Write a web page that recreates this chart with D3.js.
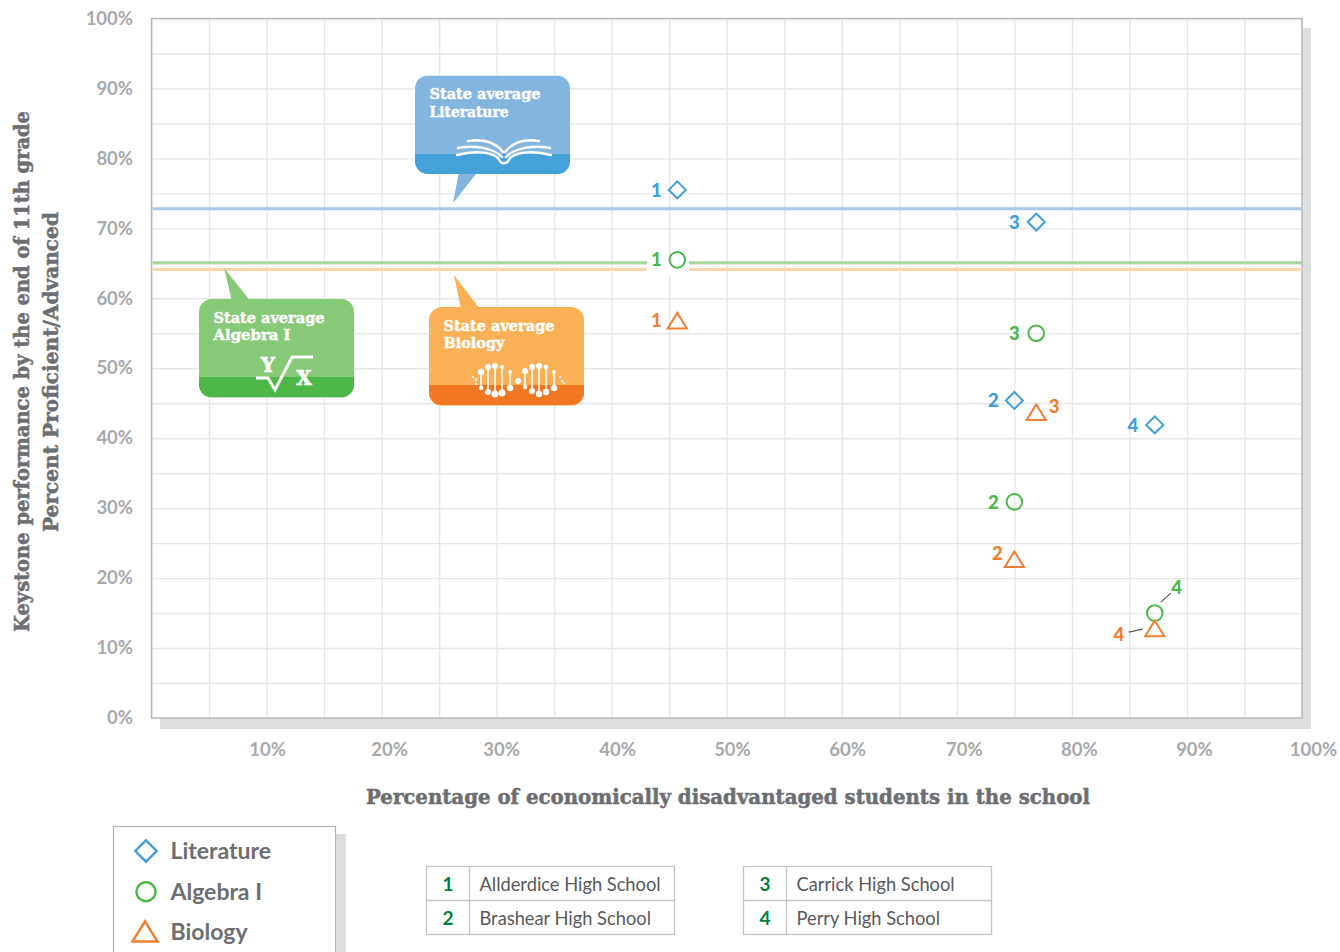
<!DOCTYPE html>
<html>
<head>
<meta charset="utf-8">
<script src="https://cdn.jsdelivr.net/npm/d3@7"></script>
<style>
html, body { margin: 0; padding: 0; background: #fff; overflow: hidden; }
svg { display: block; }
.slab { font-family: "DejaVu Serif", serif; font-weight: 700; }
</style>
</head>
<body>
<svg id="chart" width="1340" height="952"></svg>
<script>
// values
const school_ids = [1, 2, 3, 4]
const school_names = ['Allderdice High School', 'Brashear High School', 'Carrick High School', 'Perry High School']
const disadvantaged = [45.7, 75, 76.9, 87.2]
const literature = [75.5, 45.4, 70.9, 41.9]
const algebra = [65.5, 30.9, 55, 15]
const biology = [56.7, 22.6, 43.6, 12.7]
const state_avg = [72.8, 65.1, 64.1]
const subjects = ['Literature', 'Algebra I', 'Biology']
const tick_values = [0, 10, 20, 30, 40, 50, 60, 70, 80, 90, 100]
const grid_values = d3.range(0, 101, 5)

const colors = { lit: '#3F9FD8', alg: '#4DB848', bio: '#F07F32' }
const line_colors = ['#A9C8E6', '#A9D69B', '#FCD5AC']

const x = d3.scaleLinear().domain([0, 100]).range([151.5, 1302])
const y = d3.scaleLinear().domain([0, 100]).range([718, 18.5])

const svg = d3.select('#chart')

// plot background and shadow
svg.append('rect').attr('x', 160).attr('y', 28).attr('width', 1151).attr('height', 701).attr('fill', '#DCDDDE')
svg.append('rect').attr('x', x(0)).attr('y', y(100)).attr('width', x(100) - x(0)).attr('height', y(0) - y(100)).attr('fill', 'white')

// grid
svg.append('g').attr('transform', `translate(0,${y(0)})`)
  .call(d3.axisBottom(x).tickValues(grid_values).tickSize(y(100) - y(0)).tickFormat(''))
  .call(g => g.select('.domain').remove())
  .selectAll('line').attr('stroke', '#E6E7E8').attr('stroke-width', 1.4)

svg.append('g').attr('transform', `translate(${x(0)},0)`)
  .call(d3.axisRight(y).tickValues(grid_values).tickSize(x(100) - x(0)).tickFormat(''))
  .call(g => g.select('.domain').remove())
  .selectAll('line').attr('stroke', '#E6E7E8').attr('stroke-width', 1.4)

svg.append('rect').attr('x', x(0)).attr('y', y(100)).attr('width', x(100) - x(0)).attr('height', y(0) - y(100))
  .attr('fill', 'none').attr('stroke', '#B1B3B5').attr('stroke-width', 1.3)

// tick labels
let y_axis = svg.append('g').attr('transform', `translate(133,2)`)
  .call(d3.axisLeft(y).tickValues(tick_values).tickSize(0).tickPadding(0).tickFormat(d => d + '%'))
y_axis.select('.domain').remove()
y_axis.selectAll('text').attr('font-size', 18.5).attr('font-weight', 700).attr('fill', '#A7A9AC')
  .attr('font-family', 'Lato').attr('dy', '0.2em')

// the x labels sit a little right of their gridlines in the original
const x_label_shift = [0.5, 7.5, 4.4, 5.3, 5.2, 5.2, 7, 7, 7, 11]
let x_axis = svg.append('g').attr('transform', `translate(0,749.5)`)
  .call(d3.axisBottom(x).tickValues(tick_values.slice(1)).tickSize(0).tickPadding(0).tickFormat(d => d + '%'))
x_axis.select('.domain').remove()
x_axis.selectAll('text').attr('font-size', 18.5).attr('font-weight', 700).attr('fill', '#A7A9AC')
  .attr('font-family', 'Lato').attr('dy', '0.35em').attr('dx', (d, i) => x_label_shift[i])

// axis titles
function slab_title(sel, len, txt) {
  sel.attr('class', 'slab').attr('text-anchor', 'middle').attr('font-size', 20.5).attr('fill', '#6D6E71')
    .attr('stroke', '#6D6E71').attr('stroke-width', 0.5)
    .attr('textLength', len).attr('lengthAdjust', 'spacingAndGlyphs').text(txt)
}
slab_title(svg.append('text').attr('x', 728).attr('y', 804), 724, 'Percentage of economically disadvantaged students in the school')
slab_title(svg.append('text').attr('transform', 'translate(29,371.5) rotate(-90)'), 521, 'Keystone performance by the end of 11th grade')
slab_title(svg.append('text').attr('transform', 'translate(58,372) rotate(-90)'), 320, 'Percent Proficient/Advanced')

// state average lines
svg.selectAll('.avg').data(state_avg).join('line').attr('class', 'avg')
  .attr('x1', x(0) + 1).attr('x2', x(100)).attr('y1', d => y(d)).attr('y2', d => y(d))
  .attr('stroke', (d, i) => line_colors[i]).attr('stroke-width', 3)

// gap in the lines round school 1
svg.append('rect').attr('x', 647).attr('y', 256).attr('width', 42).attr('height', 20).attr('fill', 'white')

// callouts
function callout(bx, by, band_y, top_c, dark_c, tail, lines) {
  let w = 155, h = 98.5, r = 13
  let g = svg.append('g')
  let clip_id = 'clip' + bx
  g.append('clipPath').attr('id', clip_id).append('rect')
    .attr('x', bx).attr('y', by).attr('width', w).attr('height', h).attr('rx', r)
  g.append('path').attr('d', d3.line()(tail)).attr('fill', top_c)
  g.append('rect').attr('x', bx).attr('y', by).attr('width', w).attr('height', h).attr('fill', top_c).attr('clip-path', `url(#${clip_id})`)
  g.append('rect').attr('x', bx).attr('y', band_y).attr('width', w).attr('height', by + h - band_y).attr('fill', dark_c).attr('clip-path', `url(#${clip_id})`)
  lines.forEach((l, i) => {
    g.append('text').attr('class', 'slab').attr('x', bx + 14.5).attr('y', by + 23.5 + i * 17.5)
      .attr('font-size', 15).attr('fill', 'white').attr('stroke', 'white').attr('stroke-width', 0.45)
      .attr('textLength', l[1]).attr('lengthAdjust', 'spacingAndGlyphs').text(l[0])
  })
  return g
}

let c_lit = callout(415, 75.5, 154, '#82B6E0', '#45A2D8', [[459, 172], [477.5, 172], [453, 203]], [['State average', 111], ['Literature', 79]])
let c_alg = callout(199, 299, 377, '#86C976', '#4DB848', [[232, 301], [250.5, 301], [224, 268]], [['State average', 111], ['Algebra I', 77]])
let c_bio = callout(429, 307, 385, '#F9B056', '#F07822', [[461, 309], [480, 309], [454, 275]], [['State average', 111], ['Biology', 61]])

// book icon
let book_paths = [
  'M457 155 C472 151 490 151 498 158 C501 165 507 165 510 158 C518 151 536 151 551 155',
  'M458 148 C473 145 492 147 502 157',
  'M506 157 C516 147 535 145 550 148',
  'M468 141 C482 139 495 142 503 152',
  'M505 152 C513 142 526 139 539 141'
]
book_paths.forEach(p => {
  c_lit.append('path').attr('d', p).attr('fill', 'none').attr('stroke', 'white').attr('stroke-width', 2.5).attr('stroke-linecap', 'round')
})

// root icon
c_alg.append('path').attr('d', 'M256 378 L268 378 L275 390 L292 357 L313 357')
  .attr('fill', 'none').attr('stroke', 'white').attr('stroke-width', 3)
c_alg.append('text').attr('class', 'slab').attr('x', 268).attr('y', 372).attr('text-anchor', 'middle').attr('font-size', 20).attr('fill', 'white').attr('stroke', 'white').attr('stroke-width', 0.6).text('Y')
c_alg.append('text').attr('class', 'slab').attr('x', 304).attr('y', 385).attr('text-anchor', 'middle').attr('font-size', 20).attr('fill', 'white').attr('stroke', 'white').attr('stroke-width', 0.6).text('X')

// dna icon
let dna_rungs = [
  [481, 372, 388, 3.2, 2.2], [488, 367, 392, 3, 3], [495, 366, 394, 3, 3.5],
  [502, 367, 393, 2, 3.4], [510, 372, 388, 2, 3.2], [525, 371, 387, 3, 2.2],
  [532, 367, 391, 3, 3], [539, 366, 394, 3, 3.2], [546, 367, 392, 2.4, 3.2], [554, 372, 388, 2, 3.2]
]
dna_rungs.forEach(d => {
  c_bio.append('line').attr('x1', d[0]).attr('x2', d[0]).attr('y1', d[1]).attr('y2', d[2]).attr('stroke', 'white').attr('stroke-width', 1.6)
  c_bio.append('circle').attr('cx', d[0]).attr('cy', d[1]).attr('r', d[3]).attr('fill', 'white')
  c_bio.append('circle').attr('cx', d[0]).attr('cy', d[2]).attr('r', d[4]).attr('fill', 'white')
})
let dna_dots = [[473, 377, 1], [476, 380, 1.4], [476, 384, 1.2], [518, 381, 3], [560, 377, 1], [562, 381, 1.2], [564, 383, 1]]
dna_dots.forEach(d => {
  c_bio.append('circle').attr('cx', d[0]).attr('cy', d[1]).attr('r', d[2]).attr('fill', 'white')
})

// markers
const diamond_path = 'M0,-8.5L8.5,0L0,8.5L-8.5,0Z'
const triangle_path = 'M0,-8.5L9.6,7L-9.6,7Z'

function marker(sel, kind, color) {
  let m = sel.append(kind == 'alg' ? 'circle' : 'path')
    .attr('fill', 'none').attr('stroke', color).attr('stroke-width', 2)
  if (kind == 'alg') { m.attr('r', 7.8) }
  if (kind == 'lit') { m.attr('d', diamond_path) }
  if (kind == 'bio') { m.attr('d', triangle_path) }
  return m
}

// label placement per school, in the order of school_ids
const label_dx = { lit: [-21, -21, -22, -22], alg: [-21, -21, -22, 22], bio: [-21, -17, 18, -36] }
const label_dy = { lit: [0, 0, 0, 0], alg: [0, 0, 0, -26], bio: [-1, -7, -7, 5] }

let series = [['lit', literature], ['alg', algebra], ['bio', biology]]
series.forEach(s => {
  let kind = s[0]
  let color = colors[kind]
  s[1].forEach((v, i) => {
    let g = svg.append('g').attr('transform', `translate(${x(disadvantaged[i])},${y(v)})`)
    marker(g, kind, color)
    g.append('text').attr('x', label_dx[kind][i]).attr('y', label_dy[kind][i]).attr('dy', '0.36em')
      .attr('text-anchor', 'middle').attr('font-family', 'Lato').attr('font-weight', 900).attr('font-size', 18.5)
      .attr('fill', color).text(school_ids[i])
  })
})

// small leaders for the two crowded school 4 labels
let leader = [[x(disadvantaged[3]) + 6, y(algebra[3]) - 11, x(disadvantaged[3]) + 16, y(algebra[3]) - 20],
              [x(disadvantaged[3]) - 26, y(biology[3]) + 3, x(disadvantaged[3]) - 12, y(biology[3])]]
leader.forEach(l => {
  svg.append('line').attr('x1', l[0]).attr('y1', l[1]).attr('x2', l[2]).attr('y2', l[3]).attr('stroke', '#58595B').attr('stroke-width', 1.2)
})

// legend
svg.append('rect').attr('x', 123).attr('y', 834).attr('width', 223).attr('height', 130).attr('fill', '#DCDDDE')
svg.append('rect').attr('x', 113.5).attr('y', 826.5).attr('width', 222).attr('height', 140).attr('fill', 'white').attr('stroke', '#B1B3B5').attr('stroke-width', 1.2)

const legend_kinds = ['lit', 'alg', 'bio']
const legend_y = d3.scalePoint().domain(subjects).range([851, 932.5])
subjects.forEach((s, i) => {
  let ly = legend_y(s)
  let g = svg.append('g').attr('transform', `translate(${i == 2 ? 145 : 146},${ly})`)
  let m = marker(g, legend_kinds[i], colors[legend_kinds[i]]).attr('stroke-width', 2.4)
  if (i == 0) { m.attr('transform', 'scale(1.26)').attr('stroke-width', 1.9) }
  if (i == 1) { m.attr('r', 9.5) }
  if (i == 2) { m.attr('transform', 'scale(1.3)').attr('stroke-width', 1.9) }
  svg.append('text').attr('x', 170.5).attr('y', ly).attr('dy', '0.34em').attr('font-family', 'Lato').attr('font-weight', 700)
    .attr('font-size', 23).attr('fill', '#6D6E71').text(s)
})

// school key tables
function school_table(tx, first) {
  let w = 248, col = 43, rh = 34
  let g = svg.append('g').attr('transform', `translate(${tx},866.5)`)
  g.append('rect').attr('width', w).attr('height', rh * 2).attr('fill', 'white').attr('stroke', '#C4C5C7').attr('stroke-width', 1.3)
  g.append('line').attr('x1', 0).attr('x2', w).attr('y1', rh).attr('y2', rh).attr('stroke', '#C4C5C7').attr('stroke-width', 1.3)
  g.append('line').attr('x1', col).attr('x2', col).attr('y1', 0).attr('y2', rh * 2).attr('stroke', '#C4C5C7').attr('stroke-width', 1.3)
  d3.range(2).forEach(r => {
    g.append('text').attr('x', 21.5).attr('y', rh * r + 17.5).attr('dy', '0.36em').attr('text-anchor', 'middle')
      .attr('font-family', 'Lato').attr('font-weight', 700).attr('font-size', 19).attr('fill', '#00803E').text(school_ids[first + r])
    g.append('text').attr('x', col + 10).attr('y', rh * r + 17.5).attr('dy', '0.36em')
      .attr('font-family', 'Lato').attr('font-size', 18.3).attr('fill', '#58595B').text(school_names[first + r])
  })
}
school_table(426.5, 0)
school_table(743.5, 2)
</script>
</body>
</html>
